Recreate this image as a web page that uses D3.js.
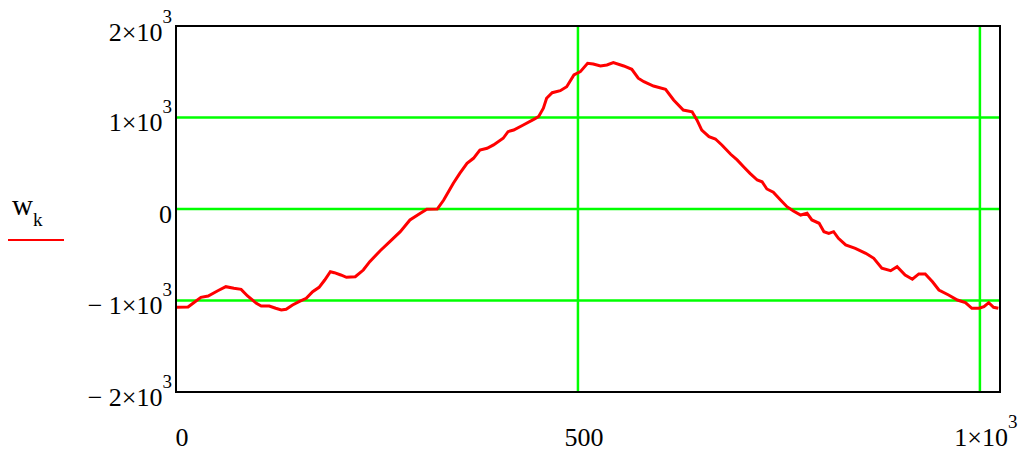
<!DOCTYPE html>
<html>
<head>
<meta charset="utf-8">
<script src="https://cdn.jsdelivr.net/npm/d3@7"></script>
<style>
  html, body { margin: 0; padding: 0; background: #fff; }
  svg { display: block; }
  text { font-family: "Liberation Serif", "Times New Roman", serif; fill: #000; }
</style>
</head>
<body>
<svg id="chart"></svg>
<script>
// sample index k and the value w_k
var kVals = [0, 15, 22, 31, 40, 52, 62, 72, 81, 89, 100, 106, 116, 124, 131, 137, 145, 153, 162, 170,
  178, 185, 192, 197, 205, 212, 223, 233, 241, 254, 266, 279, 291, 304, 312, 325, 333, 345, 353, 362,
  370, 378, 387, 395, 407, 413, 420, 432, 445, 451, 457, 461, 468, 478, 486, 495, 503, 512, 519, 528,
  536, 544, 557, 567, 575, 582, 594, 609, 619, 631, 642, 648, 654, 663, 671, 679, 690, 698, 706, 714,
  723, 729, 735, 743, 752, 760, 768, 777, 785, 791, 800, 806, 812, 818, 824, 833, 845, 858, 868, 878,
  889, 897, 907, 916, 924, 932, 941, 949, 961, 972, 982, 990, 999, 1005, 1011, 1017, 1023];
var wVals = [-1074, -1071, -1024, -965, -951, -893, -849, -867, -878, -951, -1031, -1060, -1060, -1085, -1104, -1096, -1049, -1013, -976, -904,
  -856, -776, -685, -696, -721, -747, -740, -667, -576, -456, -357, -248, -120, -47, -3, 0, 98, 281, 390, 500,
  554, 645, 663, 700, 773, 845, 863, 918, 980, 1009, 1101, 1210, 1271, 1293, 1337, 1465, 1501, 1593, 1585, 1563,
  1574, 1599, 1563, 1527, 1429, 1391, 1344, 1308, 1191, 1082, 1063, 973, 863, 790, 765, 700, 598, 536, 462, 390,
  317, 298, 219, 183, 98, 25, -22, -66, -47, -120, -156, -248, -266, -248, -320, -393, -430, -484, -539, -648,
  -674, -631, -721, -768, -710, -710, -795, -885, -940, -995, -1024, -1085, -1085, -1068, -1024, -1074, -1085];

var xTicks = [0, 500, 1000];
var xTickLabels = ["0", "500", "1×10^3"];
var yTicks = [2000, 1000, 0, -1000, -2000];
var yTickLabels = ["2×10^3", "1×10^3", "0", "− 1×10^3", "− 2×10^3"];
var xGrid = [500, 1000];
var yGrid = [1000, 0, -1000];
var legendLabel = ["w", "k"];

const iWidth = 1024, iHeight = 451;
const pLeft = 176, pRight = 1000, pTop = 26, pBottom = 392;

var svg = d3.select('#chart')
  .attr('width', iWidth)
  .attr('height', iHeight);

var x = d3.scaleLinear().domain([0, 1025]).range([pLeft, pRight]);
var y = d3.scaleLinear().domain([-2000, 2000]).range([pBottom, pTop]);

// grid lines
svg.append('g').selectAll('line')
  .data(xGrid).enter().append('line')
  .attr('x1', d => x(d)).attr('x2', d => x(d))
  .attr('y1', pTop).attr('y2', pBottom)
  .style('stroke', '#00ff00').style('stroke-width', 2.5);

svg.append('g').selectAll('line')
  .data(yGrid).enter().append('line')
  .attr('x1', pLeft).attr('x2', pRight)
  .attr('y1', d => y(d)).attr('y2', d => y(d))
  .style('stroke', '#00ff00').style('stroke-width', 2.5);

// the trace
var pts = kVals.map((k, i) => [k, wVals[i]]);
var line = d3.line().x(d => x(d[0])).y(d => y(d[1]));
svg.append('path')
  .datum(pts)
  .attr('d', line)
  .style('fill', 'none')
  .style('stroke', '#ff0000')
  .style('stroke-width', 3)
  .style('stroke-linejoin', 'miter');

// frame
svg.append('rect')
  .attr('x', pLeft).attr('y', pTop)
  .attr('width', pRight - pLeft).attr('height', pBottom - pTop)
  .style('fill', 'none').style('stroke', '#000').style('stroke-width', 2);

// label with optional superscript after "^"
function addLabel(sel, str) {
  var parts = str.split('^');
  sel.append('tspan').text(parts[0]);
  if (parts[1]) {
    sel.append('tspan').attr('dy', -18).style('font-size', '19px').text(parts[1]);
  }
}

svg.append('g').selectAll('text')
  .data(yTicks).enter().append('text')
  .attr('x', 172)
  .attr('y', (d, i) => y(d) + (i === 0 ? 14.5 : 13.5))
  .attr('text-anchor', 'end')
  .style('font-size', '26px')
  .each(function (d, i) { addLabel(d3.select(this), yTickLabels[i]); });

svg.append('g').selectAll('text')
  .data(xTicks).enter().append('text')
  .attr('x', d => x(d) + 6)
  .attr('y', 446)
  .attr('text-anchor', 'middle')
  .style('font-size', '26px')
  .each(function (d, i) { addLabel(d3.select(this), xTickLabels[i]); });

// legend
var leg = svg.append('text').attr('x', 12).attr('y', 215).style('font-size', '29px');
leg.append('tspan').text(legendLabel[0]);
leg.append('tspan').attr('dy', 10.5).style('font-size', '19px').text(legendLabel[1]);
svg.append('line')
  .attr('x1', 8).attr('x2', 64).attr('y1', 240).attr('y2', 240)
  .style('stroke', '#ff0000').style('stroke-width', 2);
</script>
</body>
</html>
